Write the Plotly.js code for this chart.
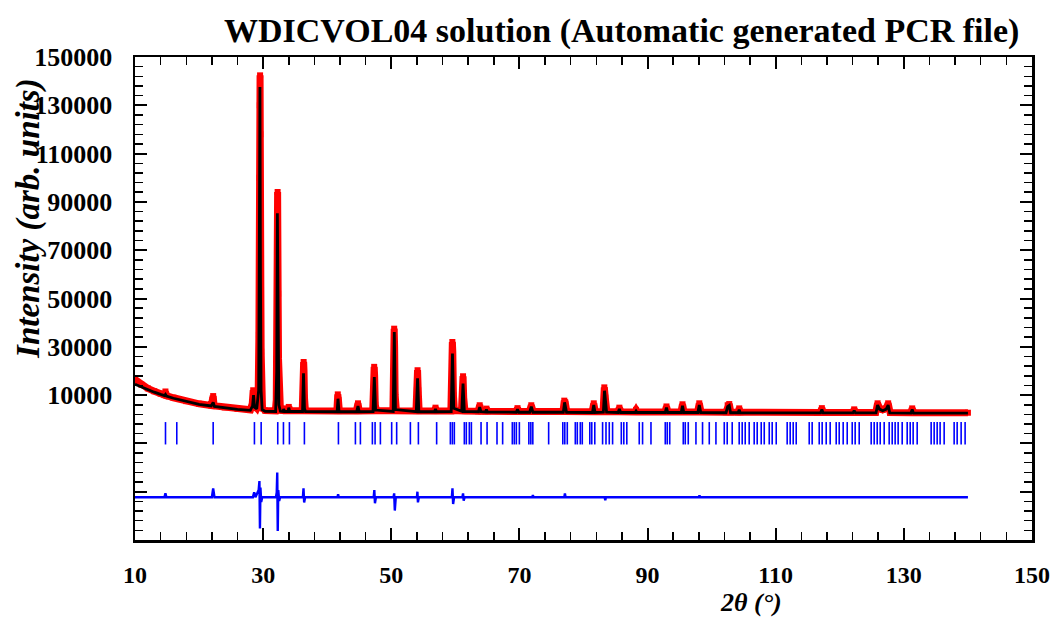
<!DOCTYPE html>
<html>
<head>
<meta charset="utf-8">
<script src="https://cdn.plot.ly/plotly-3.0.1.min.js"></script>
<style>html,body{margin:0;padding:0;background:#fff;}#chart{width:1061px;height:625px;}</style>
</head>
<body>
<div id="chart"></div>
<script>
// ---------- data ----------
const chartTitle = 'WDICVOL04 solution (Automatic generated PCR file)';
const xTitle = '2θ (°)';
const yTitle = 'Intensity (arb. units)';

// y tick values and labels (the negative part carries ticks but no labels)
const yTickVals = [-50000, -30000, -10000, 10000, 30000, 50000, 70000, 90000, 110000, 130000, 150000];
const yTickText = ['', '', '', '10000', '30000', '50000', '70000', '90000', '110000', '130000', '150000'];
const xTickVals = [10, 30, 50, 70, 90, 110, 130, 150];
const xTickText = ['10', '30', '50', '70', '90', '110', '130', '150'];

// observed intensities (red)
const obsX = [10, 11, 12, 13, 14, 14.6, 14.75, 14.9, 16, 18, 20, 21.9, 22.1, 22.2, 22.35, 24, 26, 28.0, 28.3, 28.45, 28.55, 28.7, 29.0, 29.2, 29.28, 29.34, 29.39, 29.44, 29.48, 29.52, 29.56, 29.6, 29.64, 29.69, 29.76, 29.9, 30.3, 31.9, 32.05, 32.12, 32.17, 32.22, 32.26, 32.3, 32.34, 32.4, 32.5, 32.7, 33.1, 33.2, 33.4, 33.9, 34.0, 34.2, 36.1, 36.25, 36.32, 36.38, 36.45, 36.6, 41.5, 41.65, 41.75, 41.9, 44.55, 44.8, 45.0, 47.1, 47.25, 47.33, 47.4, 47.5, 47.7, 50.25, 50.38, 50.45, 50.52, 50.6, 50.8, 53.85, 54.0, 54.1, 54.2, 54.35, 56.7, 56.9, 57.1, 59.3, 59.45, 59.53, 59.6, 59.7, 59.85, 60.95, 61.1, 61.2, 61.3, 61.5, 63.55, 63.8, 64.05, 64.65, 64.85, 65.05, 69.45, 69.7, 69.95, 71.55, 71.85, 72.15, 76.8, 77.0, 77.15, 77.4, 81.35, 81.6, 81.85, 83.05, 83.25, 83.4, 83.65, 85.35, 85.6, 85.85, 88.0, 88.2, 88.4, 92.7, 92.95, 93.2, 95.2, 95.45, 95.7, 97.8, 98.07, 98.35, 102.2, 102.5, 102.75, 103.0, 104.1, 104.3, 104.5, 116.95, 117.2, 117.45, 122.0, 122.25, 122.5, 125.6, 125.9, 126.2, 126.7, 127.25, 127.55, 127.85, 131.05, 131.3, 131.55, 140];
const obsY = [16500, 14300, 12800, 11600, 10600, 10000, 11500, 9800, 8900, 7500, 6400, 5700, 8000, 9600, 5600, 4900, 4300, 3900, 6500, 12000, 11000, 5500, 4600, 6000, 15000, 35000, 65000, 100000, 130000, 142400, 118000, 88000, 55000, 28000, 10000, 4500, 3600, 3500, 8000, 25000, 50000, 78000, 94100, 80000, 52000, 25000, 8000, 3700, 3600, 4500, 3500, 3500, 5100, 3500, 3500, 12000, 23700, 20000, 9000, 3500, 3400, 10300, 8000, 3400, 3400, 6600, 3400, 3500, 12000, 21700, 18000, 6000, 3500, 3500, 20000, 37500, 30000, 10000, 3500, 3400, 12000, 20300, 12000, 3400, 3400, 4800, 3400, 3400, 15000, 32000, 28000, 10000, 3600, 3500, 12000, 17800, 9000, 3400, 3300, 5800, 3300, 3300, 4400, 3300, 3200, 4600, 3200, 3200, 5800, 3200, 3200, 7700, 7000, 3200, 3100, 6600, 3100, 3200, 13200, 9000, 3200, 3100, 4800, 3100, 3000, 3900, 3000, 3000, 5300, 3000, 3000, 6200, 3000, 3000, 6600, 3000, 2900, 5800, 6300, 2900, 2900, 4500, 2900, 2800, 4600, 2800, 2800, 4100, 2800, 2800, 6600, 4600, 3900, 4600, 6600, 2800, 2700, 4500, 2700, 2700];

// calculated intensities (black)
const calcX = [10, 11, 12, 13, 14, 14.6, 14.75, 14.9, 16, 18, 20, 21.9, 22.2, 22.4, 24, 26, 28.0, 28.35, 28.5, 28.65, 29.0, 29.3, 29.4, 29.5, 29.58, 29.68, 29.85, 30.3, 31.95, 32.12, 32.22, 32.32, 32.45, 32.7, 33.1, 33.2, 33.35, 33.9, 34.0, 34.15, 36.15, 36.3, 36.45, 36.6, 41.55, 41.68, 41.85, 44.6, 44.8, 45.0, 47.15, 47.35, 47.55, 50.3, 50.47, 50.65, 53.9, 54.1, 54.3, 56.75, 56.9, 57.05, 59.35, 59.55, 59.75, 61.0, 61.2, 61.4, 63.6, 63.8, 64.0, 64.7, 64.85, 65.0, 69.5, 69.7, 69.9, 71.6, 71.85, 72.1, 76.85, 77.05, 77.35, 81.4, 81.6, 81.8, 83.1, 83.28, 83.6, 85.4, 85.6, 85.8, 88.05, 88.2, 88.35, 92.75, 92.95, 93.15, 95.25, 95.45, 95.65, 97.85, 98.07, 98.3, 102.25, 102.5, 102.75, 102.95, 104.15, 104.3, 104.45, 117.0, 117.2, 117.4, 122.05, 122.25, 122.45, 125.65, 125.9, 126.2, 126.7, 127.25, 127.55, 127.8, 131.1, 131.3, 131.5, 140];
const calcY = [14500, 13300, 12200, 11200, 10300, 9800, 10300, 9600, 8700, 7300, 6200, 5500, 7000, 5300, 4700, 4100, 3700, 5500, 10000, 5000, 4300, 12000, 70000, 137600, 60000, 12000, 4000, 3300, 3200, 20000, 85300, 30000, 6000, 3300, 3200, 4200, 3200, 3200, 4800, 3200, 3200, 19000, 4500, 3200, 3100, 8500, 3100, 3100, 5500, 3100, 3200, 17500, 3800, 3200, 36100, 4000, 3100, 17000, 3200, 3100, 4300, 3100, 3200, 27200, 4500, 3300, 14800, 3300, 3100, 5000, 3100, 3000, 4000, 3000, 2900, 4100, 2900, 2900, 5200, 2900, 2900, 7000, 2900, 2800, 5900, 2800, 2900, 11800, 2900, 2800, 4300, 2800, 2800, 3400, 2800, 2800, 4800, 2800, 2800, 5600, 2800, 2800, 5900, 2800, 2700, 5200, 5700, 2700, 2700, 4000, 2700, 2600, 4100, 2600, 2600, 3600, 2600, 2600, 5900, 4200, 3500, 4200, 5900, 2600, 2500, 4000, 2500, 2500];

// Bragg reflection positions (2theta, blue ticks)
const braggPos = [14.76, 16.52, 22.2, 28.64, 29.69, 32.28, 33.17, 34.1, 36.44, 41.75, 44.4, 45.18, 47.05, 47.47, 48.3, 50.06, 50.84, 52.98, 54.23, 57.08, 59.22, 59.53, 59.84, 61.4, 61.71, 62.18, 62.5, 64.01, 64.95, 66.5, 67.38, 68.89, 69.2, 69.52, 69.99, 71.47, 71.78, 72.09, 74.56, 76.77, 77.08, 77.47, 78.72, 79.03, 79.5, 79.81, 80.98, 81.29, 81.76, 82.98, 83.51, 84.02, 84.54, 85.9, 86.29, 86.76, 88.7, 89.22, 90.53, 92.76, 93.07, 93.46, 95.57, 95.88, 96.35, 97.55, 98.58, 99.63, 100.67, 101.97, 102.43, 103.21, 104.3, 104.77, 105.24, 105.86, 106.64, 107.11, 107.74, 108.21, 108.99, 109.45, 110.08, 111.79, 112.26, 112.73, 113.2, 115.23, 115.69, 116.79, 117.25, 117.88, 118.5, 119.44, 119.91, 120.53, 121.16, 121.94, 122.4, 123.03, 124.9, 125.37, 125.84, 126.31, 126.93, 127.71, 128.18, 128.64, 129.11, 129.74, 130.52, 130.99, 131.45, 132.08, 134.26, 134.73, 135.2, 135.66, 136.29, 137.85, 138.32, 138.94, 139.56];

// difference curve Yobs - Ycalc (blue)
const diffX = [10, 14.6, 14.75, 14.9, 22.0, 22.2, 22.4, 28.4, 28.6, 28.8, 29.3, 29.42, 29.5, 29.58, 29.7, 29.85, 32.0, 32.12, 32.2, 32.28, 32.36, 32.5, 32.65, 36.2, 36.3, 36.4, 36.55, 41.6, 41.7, 41.8, 47.25, 47.35, 47.45, 47.6, 50.35, 50.45, 50.55, 50.7, 54.0, 54.08, 54.16, 54.3, 59.45, 59.55, 59.65, 59.8, 61.1, 61.2, 61.3, 61.45, 72.0, 72.1, 72.2, 77.0, 77.1, 77.2, 83.3, 83.4, 83.5, 98.0, 98.1, 98.2, 140];
const diffY = [0, 0, 1600, 0, 0, 3700, 0, 0, 2000, 0, 3000, 6700, -12900, 4000, -2000, 0, 0, 2000, 10200, -14000, 3000, -1500, 0, 0, 3700, -2200, 0, 0, 1200, 0, 0, 3000, -2500, 0, 0, 1600, -5500, 0, 0, 2300, -2100, 0, 0, 3700, -2800, 0, 0, 1600, -1400, 0, 0, 900, 0, 0, 1600, 0, 0, -1200, 0, 0, 800, 0, 0];

// ---------- placement / style constants ----------
const DIFF_OFFSET = -32300;
const TICK_ROW_Y = -5800;
const serif = 'Liberation Serif';

const traces = [
  {x: obsX, y: obsY, type: 'scatter', mode: 'lines+markers',
   line: {color: '#ff0000', width: 7},
   marker: {color: '#ff0000', symbol: 'square', size: 6}, hoverinfo: 'skip'},
  {x: calcX, y: calcY, type: 'scatter', mode: 'lines',
   line: {color: '#000000', width: 2.8}, hoverinfo: 'skip'},
  {x: braggPos, y: braggPos.map(() => TICK_ROW_Y), type: 'scatter', mode: 'markers',
   marker: {symbol: 'line-ns', size: 16, color: '#0000ff', line: {color: '#0000ff', width: 1.6}}, hoverinfo: 'skip'},
  {x: diffX, y: diffY.map(v => v + DIFF_OFFSET), type: 'scatter', mode: 'lines',
   line: {color: '#0000ff', width: 2.4}, hoverinfo: 'skip'}
];

const axisCommon = {
  ticks: 'inside', ticklen: 12, tickwidth: 2, tickcolor: '#000',
  showline: true, linewidth: 2.5, linecolor: '#000', mirror: 'ticks',
  showgrid: false, zeroline: false
};

const layout = {
  width: 1061, height: 625,
  margin: {l: 135, r: 29, t: 57, b: 85},
  paper_bgcolor: '#fff', plot_bgcolor: '#fff',
  showlegend: false,
  title: {text: chartTitle, font: {family: serif, size: 34, weight: 'bold', color: '#000'},
          xref: 'container', x: 0.586, xanchor: 'center', yref: 'container', y: 0.952, yanchor: 'middle'},
  xaxis: Object.assign({}, axisCommon, {
    range: [10, 150], tickmode: 'array', tickvals: xTickVals, ticktext: xTickText,
    ticklabelstandoff: 12,
    tickfont: {family: serif, size: 24, weight: 'bold', color: '#000'},
    minor: {tick0: 10, dtick: 4, ticks: 'inside', ticklen: 8, tickwidth: 1.5, tickcolor: '#000', showgrid: false}
  }),
  yaxis: Object.assign({}, axisCommon, {
    range: [-50000, 150000], tickmode: 'array', tickvals: yTickVals, ticktext: yTickText,
    ticklabelstandoff: 15,
    tickfont: {family: serif, size: 26, weight: 'bold', color: '#000'},
    minor: {tick0: 10000, dtick: 4000, ticks: 'inside', ticklen: 8, tickwidth: 1.5, tickcolor: '#000', showgrid: false}
  }),
  annotations: [
    {text: yTitle, textangle: -90, showarrow: false, xref: 'paper', yref: 'paper',
     x: -0.118, y: 0.665, xanchor: 'center', yanchor: 'middle',
     font: {family: serif, size: 33, weight: 'bold', style: 'italic', color: '#000'}},
    {text: xTitle, showarrow: false, xref: 'paper', yref: 'paper',
     x: 0.687, y: -0.13, xanchor: 'center', yanchor: 'middle',
     font: {family: serif, size: 26, weight: 'bold', style: 'italic', color: '#000'}}
  ]
};

Plotly.newPlot('chart', traces, layout, {displayModeBar: false, staticPlot: true});
</script>
</body>
</html>
